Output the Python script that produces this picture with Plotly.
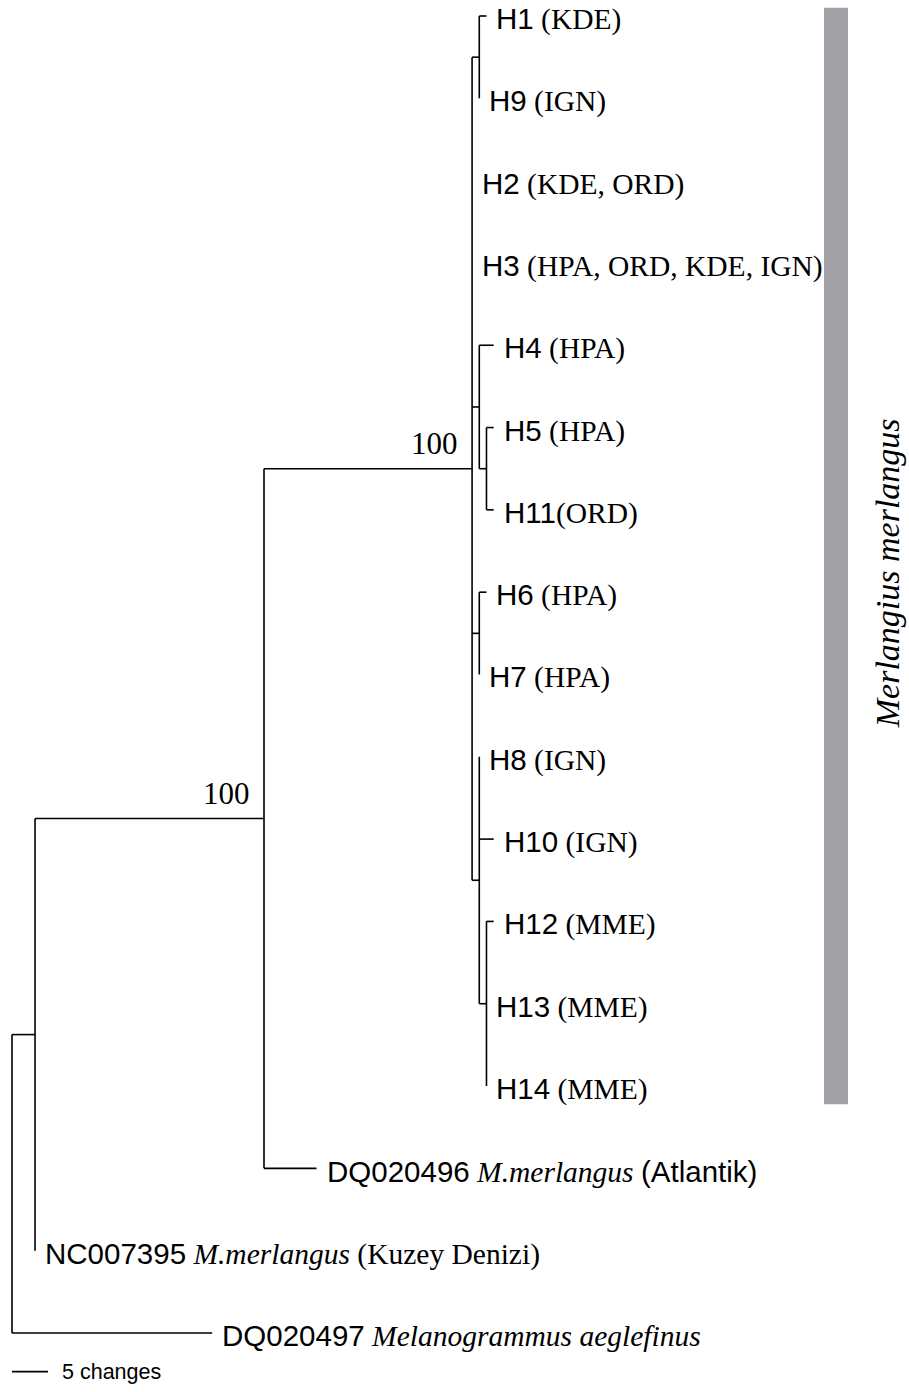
import plotly.graph_objects as go

# ---------------- data ----------------
# tree in pre-order (children appear in drawing order, top to bottom)
node_ids = ["root", "n_out", "n_mm", "n_bs", "n_h1h9", "H1", "H9", "H2", "H3",
            "n_h4", "H4", "n_h5h11", "H5", "H11", "n_h6h7", "H6", "H7",
            "n_h8", "H8", "H10", "n_h12", "H12", "H13", "H14",
            "DQ020496", "NC007395", "DQ020497"]
parent_ids = [None, "root", "n_out", "n_mm", "n_bs", "n_h1h9", "n_h1h9", "n_bs", "n_bs",
              "n_bs", "n_h4", "n_h4", "n_h5h11", "n_h5h11", "n_bs", "n_h6h7", "n_h6h7",
              "n_bs", "n_h8", "n_h8", "n_h8", "n_h12", "n_h12", "n_h12",
              "n_mm", "n_out", "root"]
branch_lengths = [0, 3.2, 31.8, 28.9, 1, 1, 0, 0, 0,
                  1, 2, 1, 1, 1, 1, 1, 0,
                  1, 0, 2, 1, 1, 0, 0,
                  7.3, 0, 27.8]

tip_codes = ["H1", "H9", "H2", "H3", "H4", "H5", "H11", "H6", "H7", "H8", "H10",
             "H12", "H13", "H14", "DQ020496", "NC007395", "DQ020497"]
tip_gaps = [" ", " ", " ", " ", " ", " ", "", " ", " ", " ", " ", " ", " ", " ", " ", " ", " "]
tip_species = ["", "", "", "", "", "", "", "", "", "", "", "", "", "",
               "M.merlangus", "M.merlangus", "Melanogrammus aeglefinus"]
tip_sites = ["(KDE)", "(IGN)", "(KDE, ORD)", "(HPA, ORD, KDE, IGN)", "(HPA)", "(HPA)", "(ORD)",
             "(HPA)", "(HPA)", "(IGN)", "(IGN)", "(MME)", "(MME)", "(MME)",
             "(Atlantik)", "(Kuzey Denizi)", ""]
tip_site_sans = [False] * 14 + [True, False, False]

support_nodes = ["n_mm", "n_bs"]
support_values = ["100", "100"]

clade_name = "Merlangius merlangus"
clade_tips = ["H1", "H14"]

scale_length = 5
scale_label = "5 changes"

# ---------------- layout constants ----------------
W, H = 909, 1392
PX_PER_CHANGE = 7.2
X0_PX = 12
Y0_PX = 16
PX_PER_TIP = 82.31
SANS = "Liberation Sans, Arial, sans-serif"
SERIF = "Liberation Serif, Times New Roman, serif"

# ---------------- tree geometry ----------------
parent = dict(zip(node_ids, parent_ids))
blen = dict(zip(node_ids, branch_lengths))
children = {n: [] for n in node_ids}
for n, p in zip(node_ids, parent_ids):
    if p is not None:
        children[p].append(n)

xpos = {}
for n in node_ids:  # pre-order -> parents first
    p = parent[n]
    xpos[n] = blen[n] + (xpos[p] if p is not None else 0.0)

ypos = {}
leaf_order = [n for n in node_ids if not children[n]]
for i, n in enumerate(leaf_order):
    ypos[n] = i
for n in reversed(node_ids):
    if children[n]:
        ypos[n] = (ypos[children[n][0]] + ypos[children[n][-1]]) / 2

xs, ys = [], []
for n in node_ids:
    p = parent[n]
    if p is not None:
        xs += [xpos[p], xpos[n], None]
        ys += [ypos[n], ypos[n], None]
    if children[n]:
        xs += [xpos[n], xpos[n], None]
        ys += [ypos[children[n][0]], ypos[children[n][-1]], None]

fig = go.Figure()
fig.add_trace(go.Scatter(x=xs, y=ys, mode="lines",
                         line=dict(color="black", width=1.6),
                         hoverinfo="skip", showlegend=False))

# tip labels
annotations = []
for code, gap, sp, site, sans in zip(tip_codes, tip_gaps, tip_species, tip_sites, tip_site_sans):
    parts = [f'<span style="font-family:{SANS}">{code}</span>{gap}']
    if sp:
        parts.append(f"<i>{sp}</i> ")
    if site:
        if sans:
            parts.append(f'<span style="font-family:{SANS}">{site}</span>')
        else:
            parts.append(site)
    annotations.append(dict(x=xpos[code], y=ypos[code], xref="x", yref="y",
                            text="".join(parts), showarrow=False,
                            xanchor="left", yanchor="middle", xshift=8, yshift=-3,
                            font=dict(family=SERIF, size=29.5, color="black")))

# support values
for nd, val in zip(support_nodes, support_values):
    annotations.append(dict(x=xpos[nd], y=ypos[nd], xref="x", yref="y",
                            text=val, showarrow=False,
                            xanchor="right", yanchor="middle", xshift=-12, yshift=25,
                            font=dict(family=SERIF, size=31, color="black")))

# clade bar + name
y_top = ypos[clade_tips[0]] - 0.1
y_bot = ypos[clade_tips[1]] + 0.22
shapes = [dict(type="rect", xref="paper", yref="y",
               x0=824 / W, x1=848 / W, y0=y_top, y1=y_bot,
               fillcolor="#a1a1a5", line=dict(width=0), layer="below")]
annotations.append(dict(x=887 / W, y=(y_top + y_bot) / 2 + 0.21, xref="paper", yref="y",
                        text=f"<i>{clade_name}</i>", showarrow=False, textangle=-90,
                        xanchor="center", yanchor="middle",
                        font=dict(family=SERIF, size=34, color="black")))

# scale bar
scale_y = len(leaf_order) - 1 + 0.47
fig.add_trace(go.Scatter(x=[0, scale_length], y=[scale_y, scale_y], mode="lines",
                         line=dict(color="black", width=1.6),
                         hoverinfo="skip", showlegend=False))
annotations.append(dict(x=scale_length, y=scale_y, xref="x", yref="y",
                        text=scale_label, showarrow=False,
                        xanchor="left", yanchor="middle", xshift=12, yshift=0,
                        font=dict(family=SANS, size=21.5, color="black")))

x_range = [-X0_PX / PX_PER_CHANGE, (W - X0_PX) / PX_PER_CHANGE]
y_range = [(H - Y0_PX) / PX_PER_TIP, -Y0_PX / PX_PER_TIP]

fig.update_layout(
    width=W, height=H,
    margin=dict(l=0, r=0, t=0, b=0, pad=0),
    paper_bgcolor="white", plot_bgcolor="white",
    xaxis=dict(range=x_range, visible=False, fixedrange=True),
    yaxis=dict(range=y_range, visible=False, fixedrange=True),
    annotations=annotations, shapes=shapes,
    showlegend=False,
)

fig.write_html("out.html")
